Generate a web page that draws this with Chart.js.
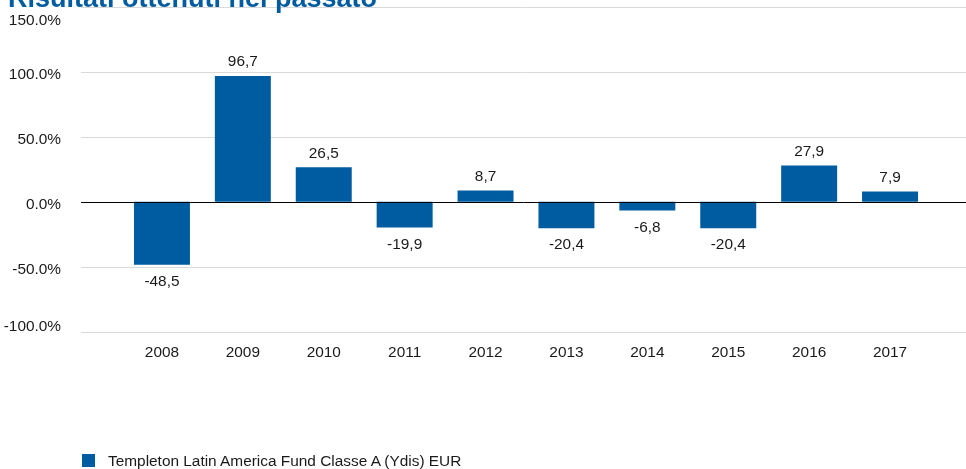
<!DOCTYPE html>
<html>
<head>
<meta charset="utf-8">
<script src="https://cdn.jsdelivr.net/npm/chart.js@4/dist/chart.umd.min.js"></script>
<style>
  html, body { margin: 0; padding: 0; background: #fff; overflow: hidden; }
  #wrap { position: relative; width: 966px; height: 469px; }
  #chart { position: absolute; left: 0; top: 0; }
  #title { position: absolute; left: 8px; top: -15px; font: bold 27px "Liberation Sans", Arial, sans-serif; color: #005ca0; white-space: nowrap; line-height: 27px; }
  #legend { position: absolute; left: 82px; top: 453px; font: 15.4px "Liberation Sans", Arial, sans-serif; color: #1a1a1a; display: flex; align-items: center; line-height: 15px; }
  #legend .box { width: 13px; height: 13px; margin-right: 13px; }
</style>
</head>
<body>
<div id="wrap">
  <canvas id="chart" width="966" height="469"></canvas>
  <div id="title">Risultati ottenuti nel passato</div>
  <div id="legend"></div>
</div>
<script>
const categories = ['2008', '2009', '2010', '2011', '2012', '2013', '2014', '2015', '2016', '2017'];
const seriesName = 'Templeton Latin America Fund Classe A (Ydis) EUR';
const seriesValues = [-48.5, 96.7, 26.5, -19.9, 8.7, -20.4, -6.8, -20.4, 27.9, 7.9];
const yTickValues = [-100, -50, 0, 50, 100, 150];

const BAR_COLOR = '#005ca0';
const TEXT_COLOR = '#1a1a1a';
const FONT = '"Liberation Sans", Arial, sans-serif';

// HTML legend
const leg = document.getElementById('legend');
leg.innerHTML = '<span class="box" style="background:' + BAR_COLOR + '"></span><span>' + seriesName + '</span>';

function fmtComma(v) { return v.toFixed(1).replace('.', ','); }

const gridAndLabels = {
  id: 'gridAndLabels',
  beforeDatasetsDraw(chart) {
    const ctx = chart.ctx;
    const y = chart.scales.y, x = chart.scales.x;
    const catW = (x.right - x.left) / categories.length;
    const gx0 = x.left - catW / 2;
    const gx1 = chart.width;
    ctx.save();
    ctx.lineWidth = 1;
    y.ticks.forEach(t => {
      if (t.value === 0) return;
      const py = Math.round(y.getPixelForValue(t.value)) + 0.5;
      ctx.strokeStyle = '#d9d9d9';
      ctx.beginPath(); ctx.moveTo(gx0, py); ctx.lineTo(gx1, py); ctx.stroke();
    });
    // y tick labels
    ctx.fillStyle = TEXT_COLOR;
    ctx.font = '15.4px ' + FONT;
    ctx.textAlign = 'right';
    ctx.textBaseline = 'middle';
    y.ticks.forEach(t => {
      let py = y.getPixelForValue(t.value) + 3;
      py = Math.max(chart.chartArea.top + 14, Math.min(chart.chartArea.bottom - 5, py));
      ctx.fillText(t.value.toFixed(1) + '%', gx0 - 20, py);
    });
    ctx.restore();
  },
  afterDatasetsDraw(chart) {
    const ctx = chart.ctx;
    const y = chart.scales.y, x = chart.scales.x;
    const catW = (x.right - x.left) / categories.length;
    const gx0 = x.left - catW / 2;
    const py0 = Math.round(y.getPixelForValue(0)) + 0.5;
    ctx.save();
    ctx.strokeStyle = '#000000';
    ctx.lineWidth = 1;
    ctx.beginPath(); ctx.moveTo(gx0, py0); ctx.lineTo(chart.width, py0); ctx.stroke();
    // data labels
    ctx.fillStyle = TEXT_COLOR;
    ctx.font = '15.4px ' + FONT;
    ctx.textAlign = 'center';
    ctx.textBaseline = 'middle';
    const meta = chart.getDatasetMeta(0);
    meta.data.forEach((bar, i) => {
      const v = seriesValues[i];
      const ly = v >= 0 ? bar.y - 14 : bar.y + 17;
      ctx.fillText(fmtComma(v), bar.x, ly);
    });
    ctx.restore();
  }
};

new Chart(document.getElementById('chart'), {
  type: 'bar',
  data: {
    labels: categories,
    datasets: [{
      label: seriesName,
      data: seriesValues,
      backgroundColor: BAR_COLOR,
      borderWidth: 0,
      barPercentage: 0.692,
      categoryPercentage: 1.0
    }]
  },
  options: {
    responsive: false,
    animation: false,
    events: [],
    layout: { padding: { top: 6.7, bottom: 107.3, left: 0, right: 35.5 } },
    plugins: { legend: { display: false }, tooltip: { enabled: false }, title: { display: false } },
    scales: {
      x: {
        grid: { display: false, drawTicks: false },
        border: { display: false },
        ticks: { color: TEXT_COLOR, font: { size: 15.4, family: FONT }, padding: 12, maxRotation: 0 },
        afterFit(s) { s.height = 30; s.paddingLeft = 0; s.paddingRight = 0; }
      },
      y: {
        min: -100, max: 150,
        afterBuildTicks(s) { s.ticks = yTickValues.map(v => ({ value: v })); },
        grid: { display: false, drawTicks: false },
        border: { display: false },
        ticks: { display: false },
        afterFit(s) { s.width = 121.5; s.paddingTop = 0; s.paddingBottom = 0; }
      }
    }
  },
  plugins: [gridAndLabels]
});
</script>
</body>
</html>
